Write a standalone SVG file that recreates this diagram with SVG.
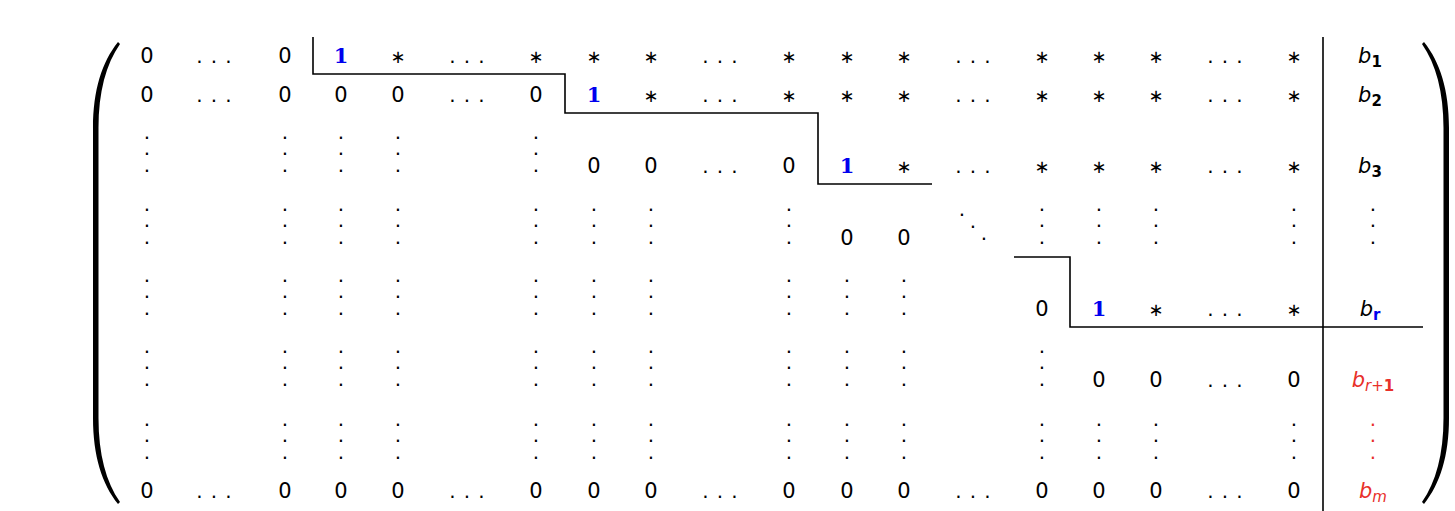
<svg xmlns="http://www.w3.org/2000/svg" xmlns:xlink="http://www.w3.org/1999/xlink" width="1455" height="511" viewBox="0 0 1455 511">
<style>
.n{font-family:"DejaVu Sans",sans-serif;font-size:21px;text-anchor:middle;fill:#000}
.st{font-family:"DejaVu Sans",sans-serif;font-size:18px;text-anchor:middle;fill:#000}
.d{font-family:"DejaVu Sans",sans-serif;font-size:20px;text-anchor:middle;fill:#000}
.one{font-family:"DejaVu Serif",serif;font-weight:bold;font-size:21px;text-anchor:middle;fill:#0000ee}
.b{font-family:"DejaVu Sans",sans-serif;font-style:italic;font-size:21px;text-anchor:middle;fill:#000}
.s{font-size:15px;font-style:normal;font-weight:bold}
.red{fill:#e8302a}
.blue{fill:#0000ee}
.ln{stroke:#000;stroke-width:1.6;fill:none}
</style>
<defs>
<path id="paren" d="M118,42 C102,62 93,90 93,128 L93,418 C93,456 102,484 118,504 L120,502 C106,482 98.5,454 98.5,418 L98.5,128 C98.5,92 106,64 120,44 Z" fill="#000"/>
</defs>
<g id="delimiters">
<use xlink:href="#paren"/>
<use xlink:href="#paren" transform="matrix(-1 0 0 1 1542 0)"/>
</g>
<g id="lines">
<path class="ln" d="M313,37 V74 H565 V113 H818 V184 H932"/>
<path class="ln" d="M1014,257 H1070 V327 H1423"/>
<path class="ln" d="M1323,37 V511"/>
</g>
<g id="row1">
<text class="n" x="147" y="63">0</text>
<text class="d" x="199.5 214 228.5" y="63">...</text>
<text class="n" x="285" y="63">0</text>
<text class="one" x="341" y="63">1</text>
<text class="st" x="398" y="63">∗</text>
<text class="d" x="452.5 467 481.5" y="63">...</text>
<text class="st" x="536" y="63">∗</text>
<text class="st" x="594" y="63">∗</text>
<text class="st" x="651" y="63">∗</text>
<text class="d" x="705.5 720 734.5" y="63">...</text>
<text class="st" x="789" y="63">∗</text>
<text class="st" x="847" y="63">∗</text>
<text class="st" x="904" y="63">∗</text>
<text class="d" x="958.5 973 987.5" y="63">...</text>
<text class="st" x="1042" y="63">∗</text>
<text class="st" x="1099" y="63">∗</text>
<text class="st" x="1156" y="63">∗</text>
<text class="d" x="1210.5 1225 1239.5" y="63">...</text>
<text class="st" x="1294" y="63">∗</text>
<text class="b" x="1370" y="63">b<tspan class="s" dy="4">1</tspan></text>
</g>
<g id="row2">
<text class="n" x="147" y="102">0</text>
<text class="d" x="199.5 214 228.5" y="102">...</text>
<text class="n" x="285" y="102">0</text>
<text class="n" x="341" y="102">0</text>
<text class="n" x="398" y="102">0</text>
<text class="d" x="452.5 467 481.5" y="102">...</text>
<text class="n" x="536" y="102">0</text>
<text class="one" x="594" y="102">1</text>
<text class="st" x="651" y="102">∗</text>
<text class="d" x="705.5 720 734.5" y="102">...</text>
<text class="st" x="789" y="102">∗</text>
<text class="st" x="847" y="102">∗</text>
<text class="st" x="904" y="102">∗</text>
<text class="d" x="958.5 973 987.5" y="102">...</text>
<text class="st" x="1042" y="102">∗</text>
<text class="st" x="1099" y="102">∗</text>
<text class="st" x="1156" y="102">∗</text>
<text class="d" x="1210.5 1225 1239.5" y="102">...</text>
<text class="st" x="1294" y="102">∗</text>
<text class="b" x="1370" y="102">b<tspan class="s" dy="4">2</tspan></text>
</g>
<g id="row3">
<text class="d" x="147 147 147" y="138.5 155 171.5">...</text>
<text class="d" x="285 285 285" y="138.5 155 171.5">...</text>
<text class="d" x="341 341 341" y="138.5 155 171.5">...</text>
<text class="d" x="398 398 398" y="138.5 155 171.5">...</text>
<text class="d" x="536 536 536" y="138.5 155 171.5">...</text>
<text class="n" x="594" y="173">0</text>
<text class="n" x="651" y="173">0</text>
<text class="d" x="705.5 720 734.5" y="173">...</text>
<text class="n" x="789" y="173">0</text>
<text class="one" x="847" y="173">1</text>
<text class="st" x="904" y="173">∗</text>
<text class="d" x="958.5 973 987.5" y="173">...</text>
<text class="st" x="1042" y="173">∗</text>
<text class="st" x="1099" y="173">∗</text>
<text class="st" x="1156" y="173">∗</text>
<text class="d" x="1210.5 1225 1239.5" y="173">...</text>
<text class="st" x="1294" y="173">∗</text>
<text class="b" x="1370" y="173">b<tspan class="s" dy="4">3</tspan></text>
</g>
<g id="row4">
<text class="d" x="147 147 147" y="210.5 227 243.5">...</text>
<text class="d" x="285 285 285" y="210.5 227 243.5">...</text>
<text class="d" x="341 341 341" y="210.5 227 243.5">...</text>
<text class="d" x="398 398 398" y="210.5 227 243.5">...</text>
<text class="d" x="536 536 536" y="210.5 227 243.5">...</text>
<text class="d" x="594 594 594" y="210.5 227 243.5">...</text>
<text class="d" x="651 651 651" y="210.5 227 243.5">...</text>
<text class="d" x="789 789 789" y="210.5 227 243.5">...</text>
<text class="n" x="847" y="245">0</text>
<text class="n" x="904" y="245">0</text>
<text class="d" x="962 973 984" y="215.5 227.5 239.5">...</text>
<text class="d" x="1042 1042 1042" y="210.5 227 243.5">...</text>
<text class="d" x="1099 1099 1099" y="210.5 227 243.5">...</text>
<text class="d" x="1156 1156 1156" y="210.5 227 243.5">...</text>
<text class="d" x="1294 1294 1294" y="210.5 227 243.5">...</text>
<text class="d" x="1373 1373 1373" y="210.5 227 243.5">...</text>
</g>
<g id="row5">
<text class="d" x="147 147 147" y="281.5 298 314.5">...</text>
<text class="d" x="285 285 285" y="281.5 298 314.5">...</text>
<text class="d" x="341 341 341" y="281.5 298 314.5">...</text>
<text class="d" x="398 398 398" y="281.5 298 314.5">...</text>
<text class="d" x="536 536 536" y="281.5 298 314.5">...</text>
<text class="d" x="594 594 594" y="281.5 298 314.5">...</text>
<text class="d" x="651 651 651" y="281.5 298 314.5">...</text>
<text class="d" x="789 789 789" y="281.5 298 314.5">...</text>
<text class="d" x="847 847 847" y="281.5 298 314.5">...</text>
<text class="d" x="904 904 904" y="281.5 298 314.5">...</text>
<text class="n" x="1042" y="316">0</text>
<text class="one" x="1099" y="316">1</text>
<text class="st" x="1156" y="316">∗</text>
<text class="d" x="1210.5 1225 1239.5" y="316">...</text>
<text class="st" x="1294" y="316">∗</text>
<text class="b" x="1370" y="316">b<tspan class="s blue" dy="4">r</tspan></text>
</g>
<g id="row6">
<text class="d" x="147 147 147" y="352.5 369 385.5">...</text>
<text class="d" x="285 285 285" y="352.5 369 385.5">...</text>
<text class="d" x="341 341 341" y="352.5 369 385.5">...</text>
<text class="d" x="398 398 398" y="352.5 369 385.5">...</text>
<text class="d" x="536 536 536" y="352.5 369 385.5">...</text>
<text class="d" x="594 594 594" y="352.5 369 385.5">...</text>
<text class="d" x="651 651 651" y="352.5 369 385.5">...</text>
<text class="d" x="789 789 789" y="352.5 369 385.5">...</text>
<text class="d" x="847 847 847" y="352.5 369 385.5">...</text>
<text class="d" x="904 904 904" y="352.5 369 385.5">...</text>
<text class="d" x="1042 1042 1042" y="352.5 369 385.5">...</text>
<text class="n" x="1099" y="387">0</text>
<text class="n" x="1156" y="387">0</text>
<text class="d" x="1210.5 1225 1239.5" y="387">...</text>
<text class="n" x="1294" y="387">0</text>
<text class="b red" x="1373" y="387">b<tspan font-size="15px" dy="4">r<tspan font-style="normal">+</tspan><tspan font-style="normal" font-weight="bold">1</tspan></tspan></text>
</g>
<g id="row7">
<text class="d" x="147 147 147" y="425.5 442 458.5">...</text>
<text class="d" x="285 285 285" y="425.5 442 458.5">...</text>
<text class="d" x="341 341 341" y="425.5 442 458.5">...</text>
<text class="d" x="398 398 398" y="425.5 442 458.5">...</text>
<text class="d" x="536 536 536" y="425.5 442 458.5">...</text>
<text class="d" x="594 594 594" y="425.5 442 458.5">...</text>
<text class="d" x="651 651 651" y="425.5 442 458.5">...</text>
<text class="d" x="789 789 789" y="425.5 442 458.5">...</text>
<text class="d" x="847 847 847" y="425.5 442 458.5">...</text>
<text class="d" x="904 904 904" y="425.5 442 458.5">...</text>
<text class="d" x="1042 1042 1042" y="425.5 442 458.5">...</text>
<text class="d" x="1099 1099 1099" y="425.5 442 458.5">...</text>
<text class="d" x="1156 1156 1156" y="425.5 442 458.5">...</text>
<text class="d" x="1294 1294 1294" y="425.5 442 458.5">...</text>
<text class="d red" x="1373 1373 1373" y="425.5 442 458.5">...</text>
</g>
<g id="row8">
<text class="n" x="147" y="498">0</text>
<text class="d" x="199.5 214 228.5" y="498">...</text>
<text class="n" x="285" y="498">0</text>
<text class="n" x="341" y="498">0</text>
<text class="n" x="398" y="498">0</text>
<text class="d" x="452.5 467 481.5" y="498">...</text>
<text class="n" x="536" y="498">0</text>
<text class="n" x="594" y="498">0</text>
<text class="n" x="651" y="498">0</text>
<text class="d" x="705.5 720 734.5" y="498">...</text>
<text class="n" x="789" y="498">0</text>
<text class="n" x="847" y="498">0</text>
<text class="n" x="904" y="498">0</text>
<text class="d" x="958.5 973 987.5" y="498">...</text>
<text class="n" x="1042" y="498">0</text>
<text class="n" x="1099" y="498">0</text>
<text class="n" x="1156" y="498">0</text>
<text class="d" x="1210.5 1225 1239.5" y="498">...</text>
<text class="n" x="1294" y="498">0</text>
<text class="b red" x="1373" y="498">b<tspan font-size="15px" dy="4">m</tspan></text>
</g>
</svg>
